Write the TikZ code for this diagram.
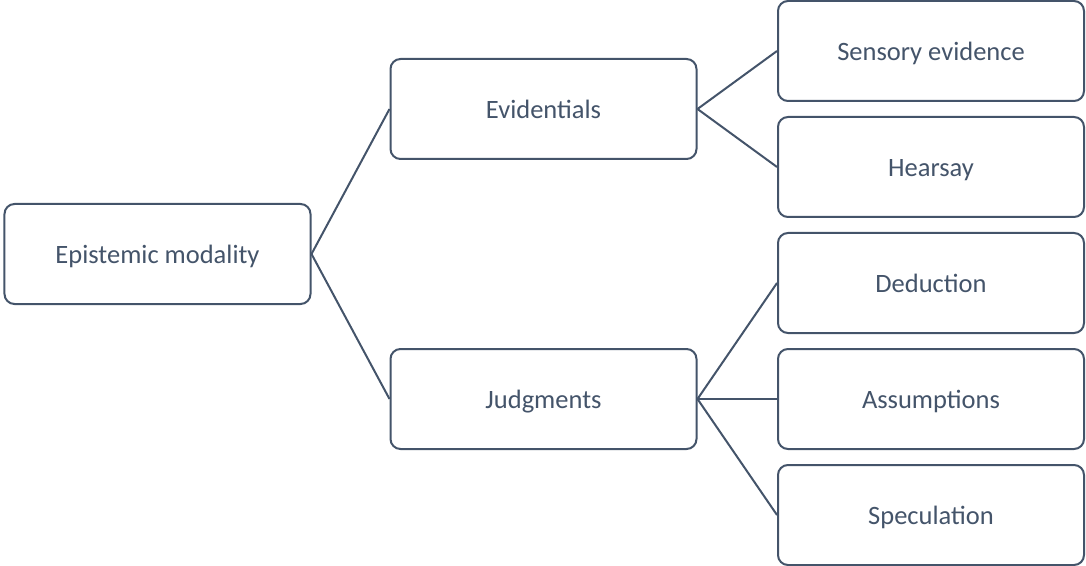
\documentclass[tikz,border=0pt]{standalone}
\usepackage{fontspec}
\setmainfont{Carlito}
\definecolor{slate}{HTML}{44546A}
\begin{document}
\begin{tikzpicture}[x=1bp,y=-1bp,
  box/.style={draw=slate, line width=2bp, rounded corners=10bp, fill=white,
    minimum width=306bp, minimum height=100bp, inner sep=0pt,
    text height=24bp, text depth=5bp,
    text=slate, font=\fontsize{26.5bp}{30bp}\selectfont},
  link/.style={draw=slate, line width=2bp}]
\useasboundingbox (0,0) rectangle (1086,566);
\node[box] (em) at (157.5,254) {Epistemic modality};
\node[box] (ev) at (543.5,109) {Evidentials};
\node[box] (ju) at (543.5,399) {Judgments};
\node[box] (se) at (931,51) {Sensory evidence};
\node[box] (he) at (931,167) {Hearsay};
\node[box] (de) at (931,283) {Deduction};
\node[box] (as) at (931,399) {Assumptions};
\node[box] (sp) at (931,515) {Speculation};
\draw[link] (em.east) -- (ev.west);
\draw[link] (em.east) -- (ju.west);
\draw[link] (ev.east) -- (se.west);
\draw[link] (ev.east) -- (he.west);
\draw[link] (ju.east) -- (de.west);
\draw[link] (ju.east) -- (as.west);
\draw[link] (ju.east) -- (sp.west);
\end{tikzpicture}
\end{document}
